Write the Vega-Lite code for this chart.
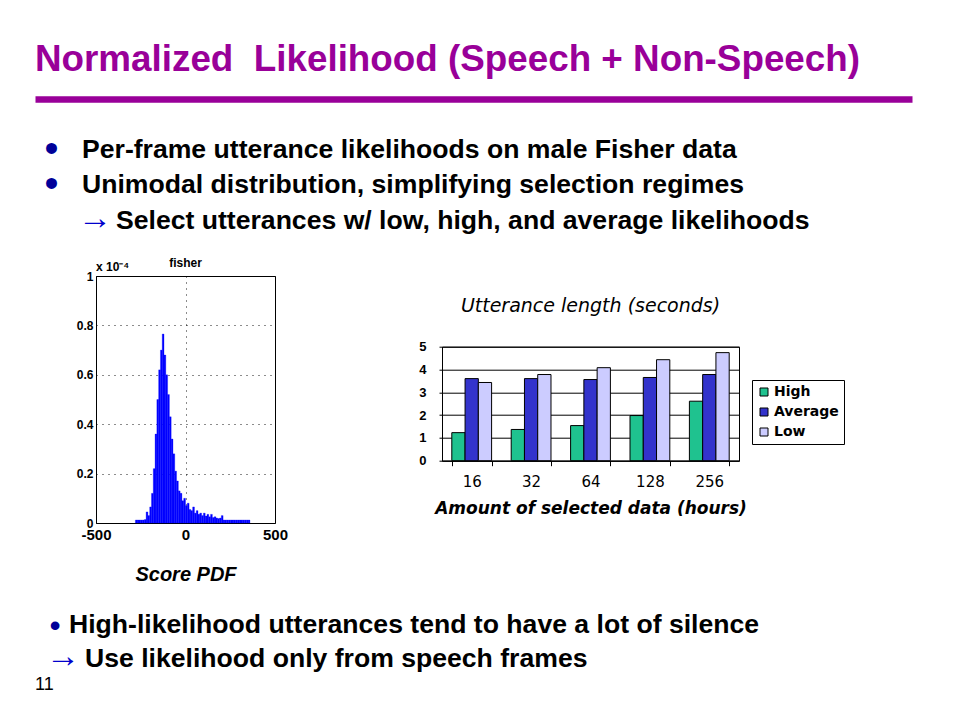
{
  "$schema": "https://vega.github.io/schema/vega-lite/v6.json",
  "background": "white",
  "padding": {"left": 35, "top": 42, "right": 40, "bottom": 10},
  "spacing": 16,
  "config": {
    "view": {"stroke": null},
    "axis": {"labelColor": "black", "titleColor": "black", "domainColor": "black", "tickColor": "black"},
    "text": {"font": "Liberation Sans"}
  },
  "resolve": {"scale": {"color": "independent"}, "legend": {"color": "independent"}},
  "vconcat": [
    {
      "width": 877,
      "height": 140.6,
      "data": {"values": [
        {"line": 0, "marker": "", "text": "Normalized\u00a0 Likelihood (Speech + Non-Speech)"},
        {"line": 1, "marker": "•", "text": "Per-frame utterance likelihoods on male Fisher data"},
        {"line": 2, "marker": "•", "text": "Unimodal distribution, simplifying selection regimes"},
        {"line": 3, "marker": "→", "text": "Select utterances w/ low, high, and average likelihoods"}
      ]},
      "encoding": {
        "x": {"datum": 0, "type": "quantitative", "scale": {"domain": [0, 1], "nice": false, "zero": false},
              "axis": {"orient": "top", "domain": true, "domainColor": "#990099", "domainWidth": 6.7, "ticks": false, "labels": false, "grid": false, "title": null}},
        "y": {"field": "line", "type": "quantitative", "scale": {"domain": [-0.67, 3.31], "reverse": true, "nice": false, "zero": false}, "axis": null},
        "text": {"field": "text"}
      },
      "layer": [
        {"transform": [{"filter": "datum.marker == '•'"}],
         "mark": {"type": "text", "align": "center", "baseline": "alphabetic", "dx": 16.5, "dy": 4, "fontSize": 40, "color": "#000099", "font": "Liberation Sans"},
         "encoding": {"text": {"field": "marker"}}},
        {"transform": [{"filter": "datum.marker == '→'"}],
         "mark": {"type": "text", "align": "center", "baseline": "alphabetic", "dx": 60, "fontSize": 34, "color": "#0000cc", "font": "Liberation Sans"},
         "encoding": {"text": {"field": "marker"}}},
        {"transform": [{"filter": "datum.line == 1 || datum.line == 2"}],
         "mark": {"type": "text", "align": "left", "baseline": "alphabetic", "dx": 47, "fontSize": 26.6, "fontWeight": "bold", "color": "black", "font": "Liberation Sans"}},
        {"transform": [{"filter": "datum.line == 3"}],
         "mark": {"type": "text", "align": "left", "baseline": "alphabetic", "dx": 81, "fontSize": 26.6, "fontWeight": "bold", "color": "black", "font": "Liberation Sans"}},
        {"transform": [{"filter": "datum.line == 0"}],
         "mark": {"type": "text", "align": "left", "baseline": "alphabetic", "dy": -51.4, "fontSize": 36.8, "fontWeight": "bold", "color": "#990099", "font": "Liberation Sans"}}
      ]
    },
    {
      "hconcat": [
        {
          "width": 1,
          "height": 1,
          "data": {"values": [{}]},
          "mark": {"type": "text"},
          "encoding": {"text": {"value": " "}}
        },
        {
          "hconcat": [
            {
              "width": 179,
              "height": 247,
              "view": {"stroke": "black", "strokeWidth": 1},
              "layer": [
                {
                  "data": {"values": [
                    {"lo": -280, "hi": -270, "pdf": 0.012}, {"lo": -270, "hi": -260, "pdf": 0.012}, {"lo": -260, "hi": -250, "pdf": 0.012},
                    {"lo": -250, "hi": -240, "pdf": 0.012}, {"lo": -240, "hi": -230, "pdf": 0.012}, {"lo": -230, "hi": -220, "pdf": 0.014},
                    {"lo": -220, "hi": -210, "pdf": 0.045}, {"lo": -210, "hi": -200, "pdf": 0.03}, {"lo": -200, "hi": -190, "pdf": 0.065},
                    {"lo": -190, "hi": -180, "pdf": 0.12}, {"lo": -180, "hi": -170, "pdf": 0.22}, {"lo": -170, "hi": -160, "pdf": 0.36},
                    {"lo": -160, "hi": -150, "pdf": 0.5}, {"lo": -150, "hi": -140, "pdf": 0.62}, {"lo": -140, "hi": -130, "pdf": 0.7},
                    {"lo": -130, "hi": -120, "pdf": 0.765}, {"lo": -120, "hi": -110, "pdf": 0.68}, {"lo": -110, "hi": -100, "pdf": 0.6},
                    {"lo": -100, "hi": -90, "pdf": 0.52}, {"lo": -90, "hi": -80, "pdf": 0.43}, {"lo": -80, "hi": -70, "pdf": 0.34},
                    {"lo": -70, "hi": -60, "pdf": 0.28}, {"lo": -60, "hi": -50, "pdf": 0.21}, {"lo": -50, "hi": -40, "pdf": 0.17},
                    {"lo": -40, "hi": -30, "pdf": 0.13}, {"lo": -30, "hi": -20, "pdf": 0.12}, {"lo": -20, "hi": -10, "pdf": 0.09},
                    {"lo": -10, "hi": 0, "pdf": 0.1}, {"lo": 0, "hi": 10, "pdf": 0.07}, {"lo": 10, "hi": 20, "pdf": 0.08},
                    {"lo": 20, "hi": 30, "pdf": 0.055}, {"lo": 30, "hi": 40, "pdf": 0.05}, {"lo": 40, "hi": 50, "pdf": 0.065},
                    {"lo": 50, "hi": 60, "pdf": 0.04}, {"lo": 60, "hi": 70, "pdf": 0.05}, {"lo": 70, "hi": 80, "pdf": 0.035},
                    {"lo": 80, "hi": 90, "pdf": 0.04}, {"lo": 90, "hi": 100, "pdf": 0.03}, {"lo": 100, "hi": 110, "pdf": 0.04},
                    {"lo": 110, "hi": 120, "pdf": 0.028}, {"lo": 120, "hi": 130, "pdf": 0.035}, {"lo": 130, "hi": 140, "pdf": 0.025},
                    {"lo": 140, "hi": 150, "pdf": 0.035}, {"lo": 150, "hi": 160, "pdf": 0.022}, {"lo": 160, "hi": 170, "pdf": 0.025},
                    {"lo": 170, "hi": 180, "pdf": 0.02}, {"lo": 180, "hi": 190, "pdf": 0.018}, {"lo": 190, "hi": 200, "pdf": 0.02},
                    {"lo": 200, "hi": 210, "pdf": 0.03}, {"lo": 210, "hi": 220, "pdf": 0.012}, {"lo": 220, "hi": 230, "pdf": 0.012},
                    {"lo": 230, "hi": 240, "pdf": 0.012}, {"lo": 240, "hi": 250, "pdf": 0.012}, {"lo": 250, "hi": 260, "pdf": 0.012},
                    {"lo": 260, "hi": 270, "pdf": 0.012}, {"lo": 270, "hi": 280, "pdf": 0.012}, {"lo": 280, "hi": 290, "pdf": 0.012},
                    {"lo": 290, "hi": 300, "pdf": 0.012}, {"lo": 300, "hi": 310, "pdf": 0.012}, {"lo": 310, "hi": 320, "pdf": 0.012},
                    {"lo": 320, "hi": 330, "pdf": 0.012}, {"lo": 330, "hi": 340, "pdf": 0.012}, {"lo": 340, "hi": 350, "pdf": 0.012},
                    {"lo": 350, "hi": 360, "pdf": 0.012}
                  ]},
                  "mark": {"type": "rect", "color": "#0000ff", "stroke": "#0000ff", "strokeWidth": 0.3},
                  "encoding": {
                    "x": {"field": "lo", "type": "quantitative", "scale": {"domain": [-500, 500], "nice": false, "zero": false},
                          "axis": {"values": [-500, 0, 500], "labelFlush": false, "labelOverlap": false, "labelFont": "Liberation Sans", "labelFontSize": 15, "labelFontWeight": "bold", "labelPadding": 4,
                                   "labelExpr": "replace(datum.label, '\u2212', '-')", "ticks": false, "domain": false,
                                   "grid": true, "gridColor": "black", "gridDash": [1, 5], "gridWidth": 1, "gridOpacity": 0.9,
                                   "title": "Score PDF", "titleFont": "Liberation Sans", "titleFontSize": 20, "titleFontWeight": "bold", "titleFontStyle": "italic", "titlePadding": 22}},
                    "x2": {"field": "hi"},
                    "y": {"field": "pdf", "type": "quantitative", "scale": {"domain": [0, 1], "nice": false},
                          "axis": {"values": [0, 0.2, 0.4, 0.6, 0.8, 1], "format": "~g", "labelFont": "Liberation Sans", "labelFontSize": 12, "labelFontWeight": "bold", "labelPadding": 3,
                                   "ticks": false, "domain": false, "grid": true, "gridColor": "black", "gridDash": [1, 5], "gridWidth": 1, "gridOpacity": 0.9, "title": null}},
                    "y2": {"datum": 0}
                  }
                },
                {
                  "data": {"values": [{}]},
                  "mark": {"type": "text", "text": "x 10⁻⁴", "align": "left", "baseline": "alphabetic", "dy": -5, "fontSize": 12, "fontWeight": "bold", "font": "Liberation Sans", "color": "black"},
                  "encoding": {"x": {"datum": -500}, "y": {"datum": 1}}
                },
                {
                  "data": {"values": [{}]},
                  "mark": {"type": "text", "text": "fisher", "align": "center", "baseline": "alphabetic", "dy": -9.3, "fontSize": 12, "fontWeight": "bold", "font": "Liberation Sans", "color": "black"},
                  "encoding": {"x": {"datum": 0}, "y": {"datum": 1}}
                }
              ]
            },
            {
              "vconcat": [
                {
                  "width": 1,
                  "height": 1,
                  "data": {"values": [{}]},
                  "mark": {"type": "text"},
                  "encoding": {"text": {"value": " "}}
                },
                {
                  "width": 297,
                  "height": 114,
                  "view": {"stroke": "black", "strokeWidth": 1},
                  "title": {"text": "Utterance length (seconds)", "frame": "group", "anchor": "middle", "font": "DejaVu Sans", "fontSize": 19, "fontStyle": "italic", "fontWeight": "normal", "baseline": "alphabetic", "offset": 9.4, "color": "black"},
                  "data": {"values": [
                    {"hours": 16, "level": "High", "seconds": 1.23}, {"hours": 16, "level": "Average", "seconds": 3.6}, {"hours": 16, "level": "Low", "seconds": 3.43},
                    {"hours": 32, "level": "High", "seconds": 1.37}, {"hours": 32, "level": "Average", "seconds": 3.6}, {"hours": 32, "level": "Low", "seconds": 3.78},
                    {"hours": 64, "level": "High", "seconds": 1.54}, {"hours": 64, "level": "Average", "seconds": 3.56}, {"hours": 64, "level": "Low", "seconds": 4.08},
                    {"hours": 128, "level": "High", "seconds": 1.98}, {"hours": 128, "level": "Average", "seconds": 3.65}, {"hours": 128, "level": "Low", "seconds": 4.43},
                    {"hours": 256, "level": "High", "seconds": 2.61}, {"hours": 256, "level": "Average", "seconds": 3.78}, {"hours": 256, "level": "Low", "seconds": 4.74}
                  ]},
                  "mark": {"type": "bar", "stroke": "black", "strokeWidth": 1},
                  "encoding": {
                    "x": {"field": "hours", "type": "ordinal", "scale": {"paddingInner": 0.33, "paddingOuter": 0.165},
                          "axis": {"labelAngle": 0, "labelFont": "DejaVu Sans", "labelFontSize": 15, "labelPadding": 9, "tickBand": "extent", "tickSize": 5,
                                   "title": "Amount of selected data (hours)", "titleFont": "DejaVu Sans", "titleFontSize": 17, "titleFontWeight": "bold", "titleFontStyle": "italic", "titlePadding": 11}},
                    "xOffset": {"field": "level", "type": "nominal", "sort": ["High", "Average", "Low"], "scale": {"paddingInner": 0, "paddingOuter": 0}},
                    "y": {"field": "seconds", "type": "quantitative", "scale": {"domain": [0, 5], "nice": false},
                          "axis": {"values": [0, 1, 2, 3, 4, 5], "labelFont": "Liberation Sans", "labelFontSize": 13, "labelFontWeight": "bold", "labelPadding": 13, "tickSize": 3,
                                   "grid": true, "gridColor": "black", "gridOpacity": 1, "gridWidth": 1, "title": null}},
                    "color": {"field": "level", "type": "nominal",
                              "scale": {"domain": ["High", "Average", "Low"], "range": ["#1fc28f", "#3333cc", "#ccccff"]},
                              "legend": {"orient": "none", "legendX": 310, "legendY": 33.3, "title": null, "fillColor": "white", "strokeColor": "black", "padding": 5,
                                         "symbolType": "square", "symbolSize": 64, "symbolStrokeColor": "black", "symbolStrokeWidth": 1,
                                         "labelFont": "DejaVu Sans", "labelFontSize": 14, "labelFontWeight": "bold", "labelColor": "black", "rowPadding": 6, "labelOffset": 3}}
                  }
                }
              ],
              "spacing": 69.7,
              "bounds": "flush",
              "resolve": {"scale": {"color": "independent"}, "legend": {"color": "independent"}}
            }
          ],
          "spacing": 167,
          "bounds": "flush",
          "resolve": {"scale": {"color": "independent"}, "legend": {"color": "independent"}}
        }
      ],
      "spacing": 60,
      "bounds": "flush",
      "resolve": {"scale": {"color": "independent"}, "legend": {"color": "independent"}}
    },
    {
      "width": 877,
      "height": 65.7,
      "data": {"values": [
        {"line": 1, "marker": "•", "text": "High-likelihood utterances tend to have a lot of silence"},
        {"line": 2, "marker": "→", "text": "Use likelihood only from speech frames"},
        {"line": 3, "marker": "", "text": "11"}
      ]},
      "encoding": {
        "x": {"datum": 0, "type": "quantitative", "scale": {"domain": [0, 1], "nice": false, "zero": false}, "axis": null},
        "y": {"field": "line", "type": "quantitative", "scale": {"domain": [0.033, 2], "reverse": true, "nice": false, "zero": false}, "axis": null},
        "text": {"field": "text"}
      },
      "layer": [
        {"transform": [{"filter": "datum.marker == '•'"}],
         "mark": {"type": "text", "align": "center", "baseline": "alphabetic", "dx": 20, "dy": 3, "fontSize": 32, "color": "#000099", "font": "Liberation Sans"},
         "encoding": {"text": {"field": "marker"}}},
        {"transform": [{"filter": "datum.marker == '→'"}],
         "mark": {"type": "text", "align": "center", "baseline": "alphabetic", "dx": 28, "fontSize": 34, "color": "#0000cc", "font": "Liberation Sans"},
         "encoding": {"text": {"field": "marker"}}},
        {"transform": [{"filter": "datum.line == 1"}],
         "mark": {"type": "text", "align": "left", "baseline": "alphabetic", "dx": 34, "fontSize": 26.6, "fontWeight": "bold", "color": "black", "font": "Liberation Sans"}},
        {"transform": [{"filter": "datum.line == 2"}],
         "mark": {"type": "text", "align": "left", "baseline": "alphabetic", "dx": 50, "fontSize": 26.6, "fontWeight": "bold", "color": "black", "font": "Liberation Sans"}},
        {"transform": [{"filter": "datum.line == 3"}],
         "mark": {"type": "text", "align": "left", "baseline": "alphabetic", "dy": -10.1, "fontSize": 18, "color": "black", "font": "Liberation Sans"}}
      ]
    }
  ]
}
